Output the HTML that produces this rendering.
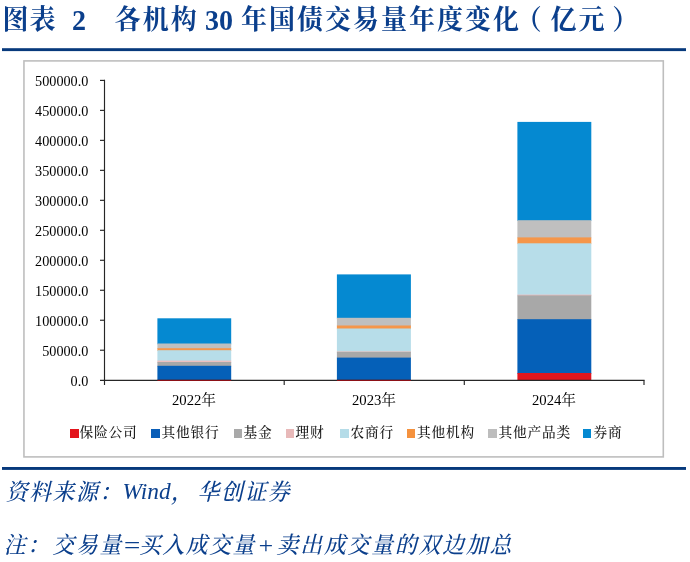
<!DOCTYPE html>
<html lang="zh-CN">
<head>
<meta charset="utf-8">
<title>图表 2 各机构 30 年国债交易量年度变化（亿元）</title>
<style>
html,body{margin:0;padding:0;background:#fff;}
body{width:690px;height:562px;position:relative;overflow:hidden;font-family:"Liberation Serif","Noto Serif CJK SC",serif;}
.abs{position:absolute;white-space:nowrap;}
.title{color:#0b3f8c;font-weight:700;font-size:28px;line-height:32px;top:4.2px;}
.tc{display:inline-block;font-size:26px;letter-spacing:2px;transform:scaleY(1.05);transform-origin:50% 50%;}
.tl{display:inline-block;transform:translateY(1.2px) scaleY(1.07);transform-origin:50% 78%;}
.ylab{position:absolute;left:0;width:88.3px;text-align:right;font-size:14.2px;line-height:16px;color:#000;}
.xlab{position:absolute;width:100px;text-align:center;font-size:14.7px;line-height:16px;color:#000;top:392px;}
.lg{position:absolute;top:425.3px;font-size:13.7px;letter-spacing:0.8px;line-height:16px;color:#1a1a1a;white-space:nowrap;margin-left:-0.4px;font-weight:500}
.sq{position:absolute;top:429px;width:8.5px;height:8.5px;}
.foot{color:#0b3f8c;font-style:italic;font-size:23.4px;line-height:28px;font-weight:500;}
.fc{display:inline-block;font-size:21.8px;letter-spacing:1.6px;transform:scaleY(1.06);transform-origin:50% 55%;}
</style>
</head>
<body>
<div class="abs title" style="left:2.5px"><span class="tc" style="letter-spacing:1px">图表</span></div>
<div class="abs title" style="left:72px"><span class="tl">2</span></div>
<div class="abs title" style="left:114.7px"><span class="tc">各机构</span></div>
<div class="abs title" style="left:205px"><span class="tl">30</span></div>
<div class="abs title" style="left:241px"><span class="tc">年国债交易量年度变化</span></div>
<div class="abs title" style="left:515.7px"><span class="tc">（</span></div>
<div class="abs title" style="left:550.5px"><span class="tc">亿元</span></div>
<div class="abs title" style="left:612.3px"><span class="tc">）</span></div>


<!-- y axis labels -->
<div class="ylab" style="top:72.5px">500000.0</div>
<div class="ylab" style="top:102.5px">450000.0</div>
<div class="ylab" style="top:132.6px">400000.0</div>
<div class="ylab" style="top:162.6px">350000.0</div>
<div class="ylab" style="top:192.7px">300000.0</div>
<div class="ylab" style="top:222.8px">250000.0</div>
<div class="ylab" style="top:252.8px">200000.0</div>
<div class="ylab" style="top:282.9px">150000.0</div>
<div class="ylab" style="top:312.9px">100000.0</div>
<div class="ylab" style="top:343px">50000.0</div>
<div class="ylab" style="top:373px">0.0</div>

<!-- bars -->
<svg class="abs" style="left:0;top:0" width="690" height="562" viewBox="0 0 690 562">
<rect x="2" y="48.2" width="684" height="2.9" fill="#07397c"/>
<rect x="2" y="467" width="684" height="2.9" fill="#07397c"/>
<rect x="23.95" y="60.9" width="639.35" height="396" fill="none" stroke="#bebebe" stroke-width="1.6"/>
<rect x="157.4" y="318.3" width="73.8" height="26.0" fill="#0589d1"/>
<rect x="157.4" y="343.5" width="73.8" height="5.5" fill="#bfbfbf"/>
<rect x="157.4" y="348.2" width="73.8" height="2.8" fill="#f5964a"/>
<rect x="157.4" y="350.2" width="73.8" height="11.2" fill="#b7dde9"/>
<rect x="157.4" y="360.6" width="73.8" height="2.2" fill="#ecc0c0"/>
<rect x="157.4" y="362.0" width="73.8" height="4.6" fill="#a8a8a8"/>
<rect x="157.4" y="365.8" width="73.8" height="14.6" fill="#0560b8"/>
<rect x="336.9" y="274.4" width="74.0" height="44.2" fill="#0589d1"/>
<rect x="336.9" y="317.8" width="74.0" height="8.5" fill="#bfbfbf"/>
<rect x="336.9" y="325.5" width="74.0" height="3.8" fill="#f5964a"/>
<rect x="336.9" y="328.5" width="74.0" height="23.7" fill="#b7dde9"/>
<rect x="336.9" y="351.4" width="74.0" height="1.3" fill="#ecc0c0"/>
<rect x="336.9" y="351.9" width="74.0" height="6.5" fill="#a8a8a8"/>
<rect x="336.9" y="357.6" width="74.0" height="22.8" fill="#0560b8"/>
<rect x="517.4" y="121.9" width="73.9" height="99.1" fill="#0589d1"/>
<rect x="517.4" y="220.2" width="73.9" height="18.0" fill="#bfbfbf"/>
<rect x="517.4" y="237.4" width="73.9" height="6.7" fill="#f5964a"/>
<rect x="517.4" y="243.3" width="73.9" height="52.1" fill="#b7dde9"/>
<rect x="517.4" y="294.6" width="73.9" height="1.6" fill="#ecc0c0"/>
<rect x="517.4" y="295.4" width="73.9" height="24.6" fill="#a8a8a8"/>
<rect x="517.4" y="319.2" width="73.9" height="54.6" fill="#0560b8"/>
<rect x="517.4" y="373.0" width="73.9" height="7.8" fill="#e0161e"/>
<g stroke="#262626" stroke-width="1.15" fill="none">
<path d="M104.5 79.8V385"/>
<path d="M100 380.4H644.6"/>
<path d="M100 80.4H104.5"/>
<path d="M100 110.38H104.5"/>
<path d="M100 140.36H104.5"/>
<path d="M100 170.34H104.5"/>
<path d="M100 200.32H104.5"/>
<path d="M100 230.3H104.5"/>
<path d="M100 260.28H104.5"/>
<path d="M100 290.26H104.5"/>
<path d="M100 320.24H104.5"/>
<path d="M100 350.22H104.5"/>
<path d="M284.2 380.4V385"/>
<path d="M464.3 380.4V385"/>
<path d="M644 380.4V385"/>
</g>
<rect x="157.4" y="379.8" width="73.8" height="1.2" fill="#8c1016"/>
<rect x="336.9" y="379.8" width="74" height="1.2" fill="#8c1016"/>
</svg>

<!-- axes -->

<div class="xlab" style="left:144px">2022年</div>
<div class="xlab" style="left:324px">2023年</div>
<div class="xlab" style="left:504px">2024年</div>

<!-- legend -->
<div class="sq" style="left:70px;background:#e3141c"></div><div class="lg" style="left:80px">保险公司</div>
<div class="sq" style="left:151px;background:#0a5eb8"></div><div class="lg" style="left:162px">其他银行</div>
<div class="sq" style="left:233.5px;background:#a9a9a9"></div><div class="lg" style="left:244px">基金</div>
<div class="sq" style="left:285.5px;background:#e8b9b9"></div><div class="lg" style="left:296px">理财</div>
<div class="sq" style="left:340px;background:#b5dce8"></div><div class="lg" style="left:351px">农商行</div>
<div class="sq" style="left:406.5px;background:#f5923e"></div><div class="lg" style="left:417.5px">其他机构</div>
<div class="sq" style="left:488px;background:#bdbdbd"></div><div class="lg" style="left:499px">其他产品类</div>
<div class="sq" style="left:582.5px;background:#0589d1"></div><div class="lg" style="left:594px">券商</div>

<div class="abs foot" style="left:5.8px;top:477.6px"><span class="fc">资料来源：</span></div>
<div class="abs foot" style="left:122.5px;top:477.4px;font-weight:400">Wind</div>
<div class="abs foot" style="left:171px;top:477.6px"><span class="fc">，</span></div>
<div class="abs foot" style="left:197.6px;top:477.6px"><span class="fc">华创证券</span></div>
<div class="abs foot" style="left:3.8px;top:530.6px"><span class="fc">注：</span></div>
<div class="abs foot" style="left:52.6px;top:530.6px"><span class="fc">交易量</span></div>
<div class="abs foot" style="left:122px;top:530.6px;font-weight:400;transform:scaleX(1.25);transform-origin:0 50%">=</div>
<div class="abs foot" style="left:139px;top:530.6px"><span class="fc">买入成交量</span></div>
<div class="abs foot" style="left:257px;top:530.6px;font-weight:400;transform:scaleX(1.1);transform-origin:0 50%">+</div>
<div class="abs foot" style="left:276.6px;top:530.6px"><span class="fc" style="letter-spacing:1.87px">卖出成交量的双边加总</span></div>
</body>
</html>
